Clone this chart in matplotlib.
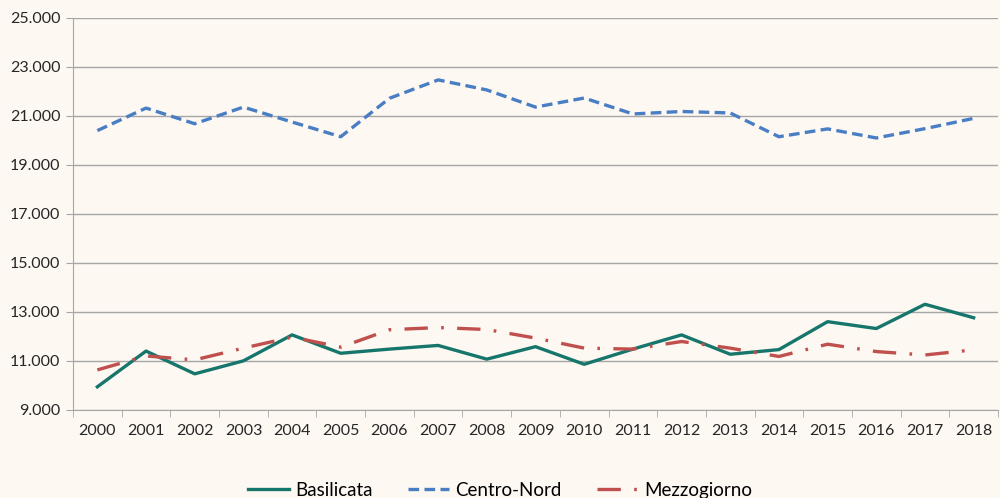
import matplotlib.pyplot as plt
from matplotlib.ticker import FuncFormatter, FixedLocator

years = [str(y) for y in range(2000, 2019)]
basilicata = [9940, 11400, 10470, 11000, 12060, 11310, 11480, 11630, 11070, 11580,
              10860, 11480, 12060, 11270, 11460, 12600, 12320, 13310, 12760]
centro_nord = [20400, 21320, 20680, 21360, 20750, 20150, 21720, 22470, 22060, 21360,
               21730, 21080, 21180, 21120, 20150, 20470, 20100, 20480, 20900]
mezzogiorno = [10630, 11200, 11040, 11520, 11970, 11560, 12270, 12360, 12280, 11930,
               11520, 11480, 11790, 11520, 11180, 11680, 11380, 11240, 11450]

bg = '#fdf8f2'
grid_col = '#a6a6a6'
plt.rcParams['font.family'] = ['Lato', 'DejaVu Sans']

fig = plt.figure(figsize=(10, 4.98), dpi=100, facecolor=bg)
ax = fig.add_axes([0.073, 0.177, 0.925, 0.787], facecolor=bg)

x = list(range(len(years)))
ax.plot(x, basilicata, color='#17766b', lw=2.4, label='Basilicata')
ax.plot(x, centro_nord, color='#4a7ec4', lw=2.4, linestyle=(0, (3.2, 1.6)), label='Centro-Nord')
ax.plot(x, mezzogiorno, color='#c0504d', lw=2.4, linestyle=(0, (7, 4, 0.8, 4)), label='Mezzogiorno')

ax.set_xlim(-0.5, len(years) - 0.5)
ax.set_ylim(9000, 25000)
ax.set_yticks(range(9000, 25001, 2000))
ax.yaxis.set_major_formatter(FuncFormatter(lambda v, p: f'{int(v):,}'.replace(',', '.')))
ax.set_xticks(x)
ax.set_xticklabels(years)
ax.xaxis.set_minor_locator(FixedLocator([i - 0.5 for i in range(len(years) + 1)]))
ax.tick_params(axis='x', which='major', length=0, pad=10, labelsize=11.5, colors='#262626')
ax.tick_params(axis='x', which='minor', length=5, color=grid_col)
ax.tick_params(axis='y', length=5, color=grid_col, labelsize=11.5, colors='#262626', pad=4)

ax.grid(axis='y', color=grid_col, lw=1)
ax.set_axisbelow(True)
for s in ['top', 'right']:
    ax.spines[s].set_visible(False)
for s in ['left', 'bottom']:
    ax.spines[s].set_color(grid_col)

fig.legend(loc='lower center', bbox_to_anchor=(0.5, -0.035), ncol=3, frameon=False,
           fontsize=13.5, handlelength=2.2, columnspacing=1.9, handletextpad=0.3)

plt.savefig('out.png', dpi=100, facecolor=bg)
